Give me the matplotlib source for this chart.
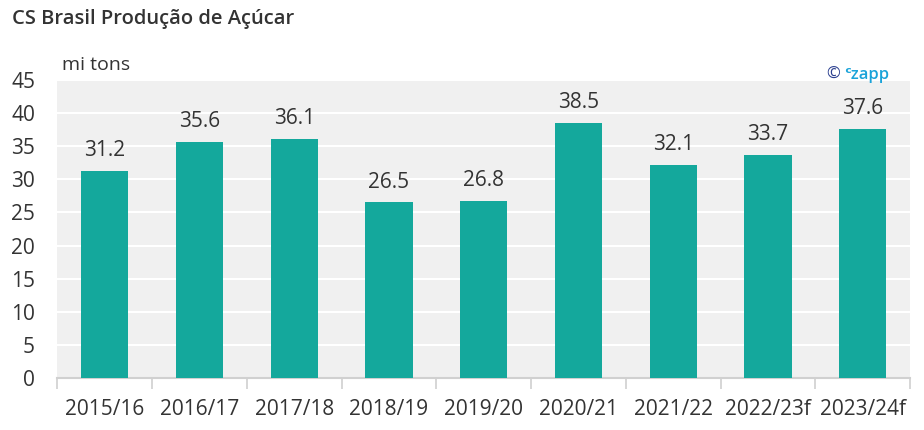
import matplotlib.pyplot as plt
import numpy as np

# data
seasons = ['2015/16', '2016/17', '2017/18', '2018/19', '2019/20',
           '2020/21', '2021/22', '2022/23f', '2023/24f']
production = [31.2, 35.6, 36.1, 26.5, 26.8, 38.5, 32.1, 33.7, 37.6]
y_ticks = [0, 5, 10, 15, 20, 25, 30, 35, 40, 45]

plt.rcParams['font.family'] = ['Open Sans', 'DejaVu Sans']
text_col = '#333333'

fig = plt.figure(figsize=(9.24, 4.30), dpi=100)
ax = fig.add_axes([0.062, 0.121, 0.923, 0.693])
ax.set_facecolor('#f0f0f0')

x = np.arange(len(seasons))
ax.bar(x, production, width=0.5, color='#14a89c', zorder=3)

# value labels
for xi, v in zip(x, production):
    ax.text(xi, v + 1.5, f'{v:.1f}', ha='center', va='bottom',
            fontsize=15, color=text_col, zorder=4)

ax.set_xlim(-0.5, len(seasons) - 0.5)
ax.set_ylim(0, 45)
ax.set_yticks(y_ticks)
ax.yaxis.grid(True, color='white', linewidth=1.5, zorder=1)
ax.set_axisbelow(True)

ax.set_xticks(x)
ax.set_xticklabels(seasons)
ax.set_xticks(np.arange(-0.5, len(seasons)), minor=True)
ax.tick_params(axis='x', which='major', length=0, pad=15,
               labelsize=15, labelcolor=text_col)
ax.tick_params(axis='x', which='minor', length=8, color='#d0d0d0', width=1.2)
ax.tick_params(axis='y', length=0, pad=16, labelsize=15, labelcolor=text_col)

for s in ['top', 'right', 'left']:
    ax.spines[s].set_visible(False)
ax.spines['bottom'].set_color('#d0d0d0')
ax.spines['bottom'].set_linewidth(1.5)

fig.text(0.013, 0.955, 'CS Brasil Produção de Açúcar', fontsize=14.5,
         fontweight='semibold', color=text_col, va='center')
fig.text(0.067, 0.848, 'mi tons', fontsize=14, color=text_col, va='center')
fig.text(0.895, 0.825, '© ', fontsize=12, color='#2b3f8f', va='center')
fig.text(0.914, 0.825, 'ᶜzapp', fontsize=12, color='#1aa3d9',
         fontweight='semibold', va='center')

fig.savefig('out.png', dpi=100)
